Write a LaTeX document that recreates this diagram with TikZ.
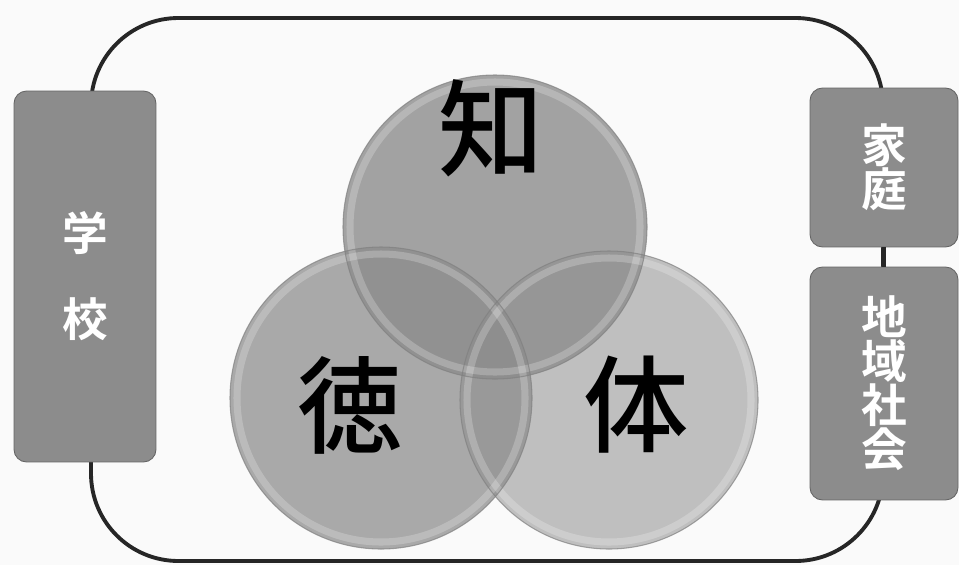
\documentclass[tikz,border=0pt]{standalone}
\usepackage{fontspec}
\newfontfamily\jp{Noto Sans CJK JP Medium}
\newfontfamily\jpbf{Noto Sans CJK JP Bold}
\begin{document}
\begin{tikzpicture}[x=0.02cm, y=-0.02cm,
    frame/.style={draw=black!85, line width=2.2pt, rounded corners=1.75cm},
    ball/.style={fill=black!45, fill opacity=#1},
    rim/.style={draw=black!50, line width=0.6pt, draw opacity=0.7},
    shine/.style={draw=white, line width=4pt, draw opacity=0.22},
    bigchar/.style={font=\jp\fontsize{60}{60}\selectfont, text=black},
    sidebox/.style={draw=black!60, line width=0.5pt, fill=black!45,
        rounded corners=0.25cm, text=white, align=center,
        font=\jpbf\fontsize{26}{25}\selectfont, inner sep=0pt},
    link/.style={draw=black!85, line width=2.2pt}]

    % Fix the page size and the background
    \useasboundingbox[fill=black!2] (0,0) rectangle (959,565);

    % Draw the outer frame
    \draw[frame] (91,18) rectangle (883,561);

    % Draw the three circles
    \fill[ball=0.53] (609,400) circle[radius=149];
    \fill[ball=0.73] (381,398) circle[radius=151];
    \fill[ball=0.8] (495,227) circle[radius=152];

    % Add the rims of the circles
    \draw[shine] (609,400) circle[radius=142];
    \draw[shine] (381,398) circle[radius=144];
    \draw[shine] (495,227) circle[radius=145];
    \draw[rim] (609,400) circle[radius=149];
    \draw[rim] (381,398) circle[radius=151];
    \draw[rim] (495,227) circle[radius=152];

    % Add the labels of the circles
    \node[bigchar] (chi) at (491,128) {知};
    \node[bigchar] (toku) at (350,405) {徳};
    \node[bigchar] (tai) at (636,405) {体};

    % Draw the boxes at the sides
    \node[sidebox, minimum width=2.84cm, minimum height=7.42cm] (school) at (85,276.5) {学\\[24pt]校};
    \node[sidebox, minimum width=2.96cm, minimum height=3.18cm] (home) at (884,167.5) {家\\庭};
    \node[sidebox, minimum width=2.96cm, minimum height=4.66cm] (local) at (884,383.5) {地\\域\\社\\会};

    % Join the two boxes on the right
    \draw[link] (home.south) -- (local.north);

\end{tikzpicture}
\end{document}
